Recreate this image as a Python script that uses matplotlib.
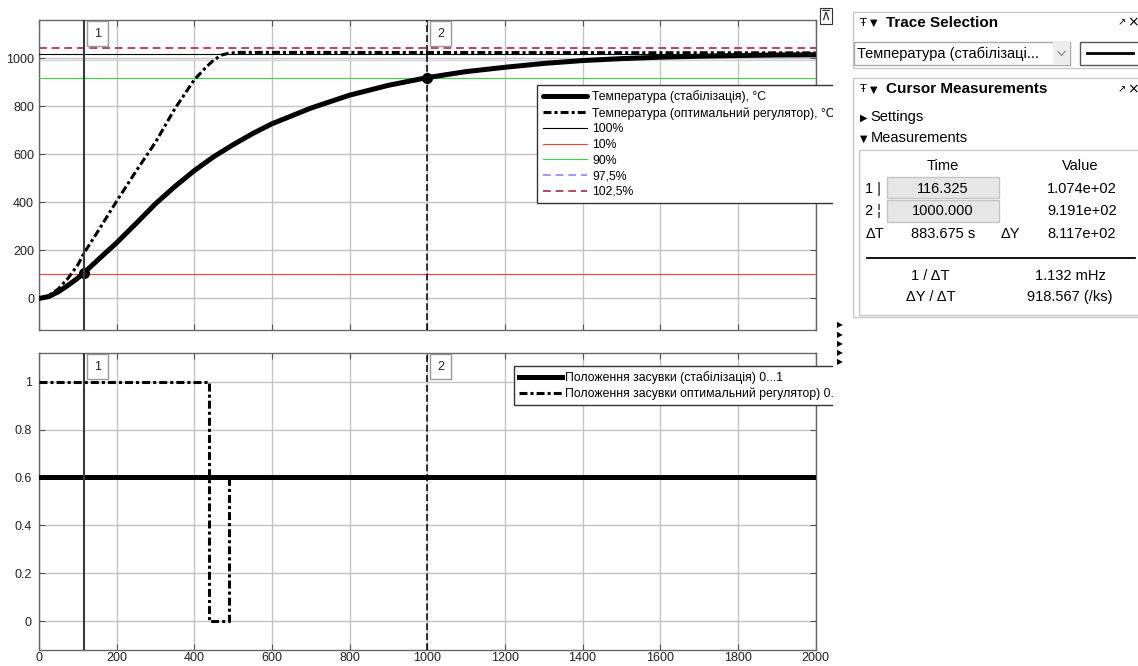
import matplotlib.pyplot as plt
import numpy as np
from matplotlib.patches import Rectangle
from matplotlib.lines import Line2D

plt.rcParams['font.family'] = ['Liberation Sans', 'DejaVu Sans']

# --- data read from the scope ---
temp_t = [0, 25, 50, 75, 100, 116.3, 150, 200, 250, 300, 350, 400, 450, 500, 550,
          600, 700, 800, 900, 1000, 1100, 1200, 1300, 1400, 1500, 1600, 1700, 1800, 1900, 2000]
temp_stab = [0, 8, 28, 55, 85, 107.4, 158, 232, 312, 394, 466, 532, 590, 640, 686,
             727, 792, 846, 887, 919.1, 944, 962, 978, 990, 998, 1004, 1008, 1011, 1013, 1014]

opt_t = [0, 25, 50, 75, 100, 116.3, 150, 200, 250, 300, 350, 400, 430, 450, 470, 490, 520, 600, 2000]
temp_opt = [0, 12, 40, 85, 140, 190, 275, 405, 530, 650, 790, 910, 962, 992, 1013, 1021, 1024, 1024, 1022]

final_value = 1018
ref_names = ["100%", "10%", "90%", "97,5%", "102,5%"]
ref_frac = [1.0, 0.1, 0.9, 0.975, 1.025]

valve_t = [0, 439, 439, 490, 490, 2000]
valve_opt = [1, 1, 0, 0, 0.6, 0.6]
valve_stab_t = [0, 2000]
valve_stab = [0.6, 0.6]

cursor1, cursor2 = 116.325, 1000.0
cur_vals = [107.4, 919.1]

W, H = 1138, 666
fig = plt.figure(figsize=(W / 100, H / 100), dpi=100)

def fx(px):
    return px / W

def fy(py):
    return 1 - py / H

ax1 = fig.add_axes([fx(39), fy(329.5), fx(815.5 - 39), (329.5 - 19.7) / H])
ax2 = fig.add_axes([fx(39), fy(650), fx(815.5 - 39), (650 - 352.7) / H])

grid_c = '#c4c4c4'
for ax in (ax1, ax2):
    ax.set_xlim(0, 2000)
    ax.set_xticks(np.arange(0, 2001, 200))
    ax.grid(True, color=grid_c, lw=1.0)
    ax.set_axisbelow(True)
    ax.tick_params(direction='in', top=True, right=True, length=4, width=0.8,
                   colors='#555555', labelcolor='#222222', labelsize=9)
    ax.tick_params(axis='x', pad=1.2)
    for s in ax.spines.values():
        s.set_color('#666666')
        s.set_linewidth(1.0)

# top plot
ax1.set_ylim(-129, 1160)
ax1.set_yticks([0, 200, 400, 600, 800, 1000])
ax1.set_yticklabels(['0', '200', '400', '600', '800', '1000'])
ax1.tick_params(labelbottom=False)

dashdot = (0, (2.6, 1.0, 1.0, 1.0))
l_stab, = ax1.plot(temp_t, temp_stab, color='black', lw=3.6, solid_capstyle='round',
                   label="Температура (стабілізація), °C", zorder=5)
l_opt, = ax1.plot(opt_t, temp_opt, color='black', lw=2.2, linestyle=dashdot,
                  label="Температура (оптимальний регулятор), °C", zorder=4)
ref_styles = [dict(color='black', lw=0.8, ls='-'),
              dict(color='#ff3b3b', lw=0.8, ls='-'),
              dict(color='#3ad83a', lw=0.8, ls='-'),
              dict(color='#9a9aff', lw=1.4, ls=(0, (4, 2.5))),
              dict(color='#b8455a', lw=1.4, ls=(0, (4, 2.5)))]
ref_lines = []
for name, fr, st in zip(ref_names, ref_frac, ref_styles):
    ln = ax1.axhline(final_value * fr, label=name, zorder=3, **st)
    ref_lines.append(ln)
# the 97.5% trace is barely visible on the scope
ref_lines[3].set_alpha(0.0)
blue_handle = Line2D([], [], label=ref_names[3], **ref_styles[3])
ax1.axhline(final_value * ref_frac[3], color='#d2d2da', lw=1.0, zorder=0.6)

ax1.plot([cursor1, cursor2], cur_vals, 'o', color='black', ms=7, zorder=6)

handles1 = [l_stab, l_opt, ref_lines[0], ref_lines[1], ref_lines[2], blue_handle, ref_lines[4]]
leg1 = ax1.legend(handles=handles1, loc='upper left',
                  bbox_to_anchor=(fx(537.3), fy(85)), bbox_transform=fig.transFigure,
                  fontsize=8.8, handlelength=3.6, handletextpad=0.45, labelspacing=0.3,
                  borderpad=0.45, frameon=True, fancybox=False, framealpha=1, borderaxespad=0)
leg1.get_frame().set_edgecolor('#333333')
leg1.get_frame().set_linewidth(1.0)
leg1.set_zorder(10)

# bottom plot
ax2.set_ylim(-0.121, 1.121)
ax2.set_yticks([0, 0.2, 0.4, 0.6, 0.8, 1])
ax2.set_yticklabels(['0', '0.2', '0.4', '0.6', '0.8', '1'])
ax2.tick_params(axis='y', pad=5.2)

v_stab, = ax2.plot(valve_stab_t, valve_stab, color='black', lw=3.6,
                   label="Положення засувки (стабілізація) 0...1", zorder=5)
v_opt, = ax2.plot(valve_t, valve_opt, color='black', lw=2.2, linestyle=dashdot,
                  label="Положення засувки оптимальний регулятор) 0...1", zorder=4)
leg2 = ax2.legend(handles=[v_stab, v_opt], loc='upper left',
                  bbox_to_anchor=(fx(514), fy(366)), bbox_transform=fig.transFigure,
                  fontsize=8.8, handlelength=3.5, handletextpad=0.3, labelspacing=0.3,
                  borderpad=0.4, frameon=True, fancybox=False, framealpha=1, borderaxespad=0)
leg2.get_frame().set_edgecolor('#333333')
leg2.get_frame().set_linewidth(1.0)
leg2.set_zorder(10)

# cursors
for ax in (ax1, ax2):
    ax.axvline(cursor1, color='#3a3a3a', lw=1.5, zorder=7)
    ax.axvline(cursor2, color='black', lw=1.1, ls=(0, (4.5, 2.0)), zorder=7)
    for c, lab in ((cursor1, '1'), (cursor2, '2')):
        ax.annotate(lab, xy=(c, 1), xycoords=('data', 'axes fraction'),
                    xytext=(9.5, -10), textcoords='offset points', ha='center', va='center',
                    fontsize=9, color='#222222', zorder=8,
                    bbox=dict(boxstyle='square,pad=0.55', fc='white', ec='#999999', lw=1))

# cut the legends at the scope border
fig.patches.append(Rectangle((fx(833), 0), fx(852 - 833), 1, transform=fig.transFigure,
                             fc='white', ec='none', zorder=20))
fig.patches.append(Rectangle((fx(833), 0), fx(900 - 833), fy(320), transform=fig.transFigure,
                             fc='white', ec='none', zorder=20))
fig.text(fx(826), fy(16), '⊼', fontsize=10, ha='center', va='center', color='#333333', zorder=21,
         bbox=dict(boxstyle='square,pad=0.1', fc='white', ec='#333333', lw=0.8))
for i in range(5):
    fig.text(fx(840), fy(325 + 9.2 * i), '▶', fontsize=5.5, ha='center', va='center',
             color='black', zorder=21, family=['DejaVu Sans'])

# --- right side panels ---
panel_c = '#c8c8c8'
fig.patches.append(Rectangle((fx(853), fy(67.7)), fx(300), (67.7 - 11.7) / H,
                             transform=fig.transFigure, fc='white', ec=panel_c, lw=1))
fig.patches.append(Rectangle((fx(853), fy(316.7)), fx(300), (316.7 - 78.3) / H,
                             transform=fig.transFigure, fc='white', ec=panel_c, lw=1))

icon_fam = ['DejaVu Sans']
for py, title in ((22.7, 'Trace Selection'), (89.3, 'Cursor Measurements')):
    fig.text(fx(860), fy(py), 'Ŧ', fontsize=8, ha='left', va='center', family=icon_fam)
    fig.text(fx(870), fy(py), '▼', fontsize=7, ha='left', va='center', family=icon_fam)
    fig.text(fx(886), fy(py), title, fontsize=11, fontweight='bold', ha='left', va='center')
    fig.text(fx(1118), fy(py), '↗', fontsize=7, ha='left', va='center', family=icon_fam)
    fig.text(fx(1127), fy(py), '×', fontsize=10, ha='left', va='center', family=icon_fam)

# dropdown
fig.patches.append(Rectangle((fx(854), fy(65)), fx(1070 - 854), (65 - 41.7) / H,
                             transform=fig.transFigure, fc='white', ec='#a8a8a8', lw=1))
fig.patches.append(Rectangle((fx(1053), fy(64.5)), fx(16.5), (64.5 - 42.2) / H,
                             transform=fig.transFigure, fc='#ededed', ec='none'))
fig.text(fx(857), fy(53.3), 'Температура (стабілізаці...', fontsize=10.5, ha='left', va='center')
fig.lines.append(Line2D([fx(1058), fx(1061.5), fx(1065)], [fy(51.5), fy(55.5), fy(51.5)],
                        transform=fig.transFigure, color='#8a8a8a', lw=0.9))
fig.patches.append(Rectangle((fx(1080), fy(65)), fx(70), (65 - 41.7) / H,
                             transform=fig.transFigure, fc='white', ec='#555555', lw=1))
fig.lines.append(Line2D([fx(1087), fx(1133)], [fy(53.3), fy(53.3)], transform=fig.transFigure,
                        color='black', lw=2))

fig.text(fx(860), fy(117.3), '▶', fontsize=7, ha='left', va='center', family=icon_fam)
fig.text(fx(870.5), fy(117.3), 'Settings', fontsize=10.5, ha='left', va='center')
fig.text(fx(860), fy(138.3), '▼', fontsize=7, ha='left', va='center', family=icon_fam)
fig.text(fx(870.5), fy(138.3), 'Measurements', fontsize=10.5, ha='left', va='center')

fig.patches.append(Rectangle((fx(859.3), fy(315)), fx(300), (315 - 150) / H,
                             transform=fig.transFigure, fc='white', ec=panel_c, lw=1))

fs = 10.5
fig.text(fx(942.7), fy(165.7), 'Time', fontsize=fs, ha='center', va='center')
fig.text(fx(1080), fy(165.7), 'Value', fontsize=fs, ha='center', va='center')

rows = [('1 |', '116.325', '1.074e+02', 189),
        ('2 ¦', '1000.000', '9.191e+02', 211)]
for (lab, tval, vval, py), top in zip(rows, (176.7, 200)):
    fig.patches.append(Rectangle((fx(886.7), fy(top + 21.7)), fx(999.3 - 886.7), 21.7 / H,
                                 transform=fig.transFigure, fc='#e6e6e6', ec='#c4c4c4', lw=1))
    fig.text(fx(865), fy(py), lab, fontsize=fs, ha='left', va='center')
    fig.text(fx(943), fy(py), tval, fontsize=fs, ha='center', va='center')
    fig.text(fx(1082), fy(py), vval, fontsize=fs, ha='center', va='center')

fig.text(fx(865.5), fy(234.3), 'ΔT', fontsize=fs, ha='left', va='center')
fig.text(fx(942.7), fy(234.3), '883.675 s', fontsize=fs, ha='center', va='center')
fig.text(fx(1010), fy(234.3), 'ΔY', fontsize=fs, ha='center', va='center')
fig.text(fx(1082), fy(234.3), '8.117e+02', fontsize=fs, ha='center', va='center')
fig.lines.append(Line2D([fx(866.7), fx(1135)], [fy(258.3), fy(258.3)], transform=fig.transFigure,
                        color='black', lw=1.3))
fig.text(fx(930.7), fy(275.7), '1 / ΔT', fontsize=fs, ha='center', va='center')
fig.text(fx(1070), fy(275.7), '1.132 mHz', fontsize=fs, ha='center', va='center')
fig.text(fx(930.7), fy(296.7), 'ΔY / ΔT', fontsize=fs, ha='center', va='center')
fig.text(fx(1070), fy(296.7), '918.567 (/ks)', fontsize=fs, ha='center', va='center')

fig.savefig('out.png', dpi=100)
